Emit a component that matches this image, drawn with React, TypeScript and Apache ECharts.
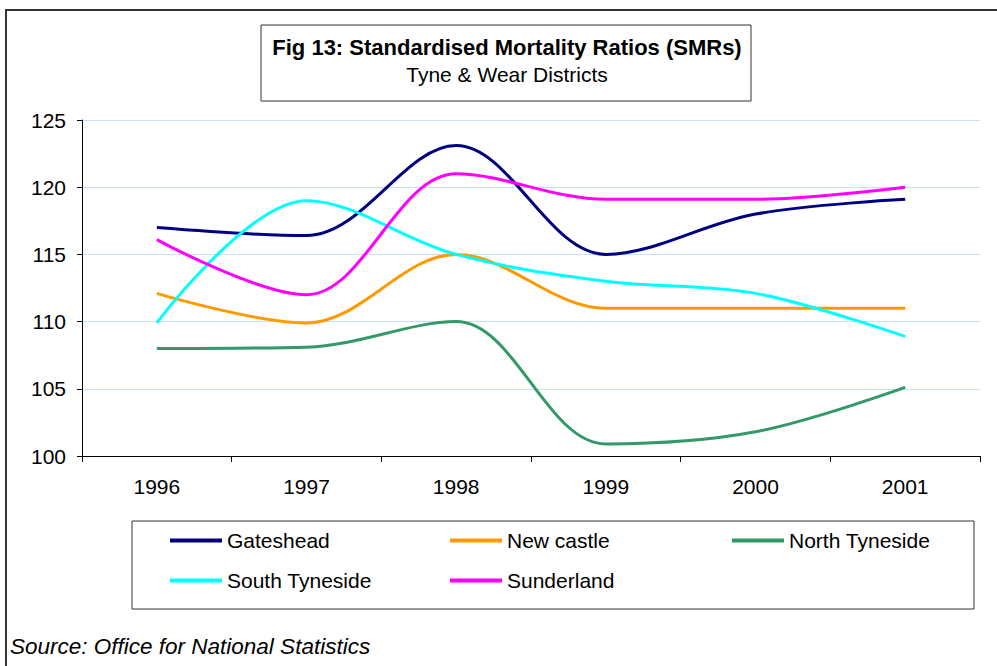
import React, { useEffect, useRef } from "react";
import * as echarts from "echarts";

const years = ["1996", "1997", "1998", "1999", "2000", "2001"];
const gateshead = [117.0, 116.4, 123.1, 115.0, 118.0, 119.1];
const newcastle = [112.1, 109.9, 115.0, 111.0, 111.0, 111.0];
const northTyneside = [108.0, 108.1, 110.0, 100.9, 101.8, 105.1];
const southTyneside = [109.9, 119.0, 115.0, 113.0, 112.1, 108.9];
const sunderland = [116.1, 112.0, 121.0, 119.1, 119.1, 120.0];

const seriesNames = ["Gateshead", "New castle", "North Tyneside", "South Tyneside", "Sunderland"];
const seriesData = [gateshead, newcastle, northTyneside, southTyneside, sunderland];
const colors = ["#000080", "#FF9900", "#339966", "#00FFFF", "#FF00FF"];
const yTicks = { min: 100, max: 125, interval: 5 };

const FONT = "'Liberation Sans', Arial, sans-serif";

export default function App() {
  const ref = useRef<HTMLDivElement>(null);
  useEffect(() => {
    if (!ref.current) return;
    const chart = echarts.init(ref.current, undefined, { renderer: "svg" });
    const legendPos = [
      { left: 170, top: 530 },
      { left: 450, top: 530 },
      { left: 732, top: 530 },
      { left: 170, top: 570 },
      { left: 450, top: 570 },
    ];
    chart.setOption({
      animation: false,
      backgroundColor: "#ffffff",
      textStyle: { fontFamily: FONT },
      grid: { left: 82, right: 17, top: 120, bottom: 210 },
      xAxis: {
        type: "category",
        data: years,
        boundaryGap: true,
        axisLine: { lineStyle: { color: "#000", width: 1 } },
        axisTick: { show: true, length: 6, lineStyle: { color: "#000" } },
        axisLabel: { color: "#000", fontSize: 21, margin: 20, fontFamily: FONT },
        splitLine: { show: false },
      },
      yAxis: {
        type: "value",
        min: yTicks.min,
        max: yTicks.max,
        interval: yTicks.interval,
        axisLine: { show: true, lineStyle: { color: "#000", width: 1 } },
        axisTick: { show: true, length: 5, lineStyle: { color: "#000" } },
        axisLabel: { color: "#000", fontSize: 21, margin: 16, fontFamily: FONT },
        splitLine: { show: true, lineStyle: { color: "#C4E0FA", width: 1 } },
      },
      legend: seriesNames.map((n, i) => ({
        data: [n],
        left: legendPos[i].left,
        top: legendPos[i].top,
        padding: 0,
        icon: "rect",
        itemWidth: 52,
        itemHeight: 4,
        selectedMode: false,
        textStyle: { color: "#000", fontSize: 21, fontFamily: FONT },
      })),
      series: seriesNames.map((n, i) => ({
        name: n,
        type: "line",
        data: seriesData[i],
        smooth: 0.35,
        showSymbol: false,
        symbol: "none",
        lineStyle: { color: colors[i], width: 3 },
        itemStyle: { color: colors[i] },
      })),
      graphic: [
        {
          type: "rect",
          shape: { x: 6, y: 10, width: 1010, height: 700 },
          style: { fill: "none", stroke: "#333", lineWidth: 2 },
          z: -1,
        },
        {
          type: "rect",
          shape: { x: 261, y: 25, width: 490, height: 76 },
          style: { fill: "#fff", stroke: "#333", lineWidth: 1 },
        },
        {
          type: "text",
          x: 507,
          y: 47,
          style: {
            text: "Fig 13: Standardised Mortality Ratios (SMRs)",
            fontSize: 22,
            fontWeight: "bold",
            fontFamily: FONT,
            fill: "#000",
            align: "center",
            verticalAlign: "middle",
          },
        },
        {
          type: "text",
          x: 507,
          y: 74,
          style: {
            text: "Tyne & Wear Districts",
            fontSize: 21,
            fontFamily: FONT,
            fill: "#000",
            align: "center",
            verticalAlign: "middle",
          },
        },
        {
          type: "rect",
          shape: { x: 132, y: 521, width: 842, height: 88 },
          style: { fill: "none", stroke: "#333", lineWidth: 1 },
          z: -1,
        },
        {
          type: "text",
          x: 10,
          y: 646,
          style: {
            text: "Source: Office for National Statistics",
            fontSize: 22.5,
            fontStyle: "italic",
            fontFamily: FONT,
            fill: "#000",
            align: "left",
            verticalAlign: "middle",
          },
        },
      ],
    });
    return () => chart.dispose();
  }, []);
  return (
    <div
      ref={ref}
      style={{ position: "fixed", left: 0, top: 0, width: 997, height: 666 }}
    />
  );
}
